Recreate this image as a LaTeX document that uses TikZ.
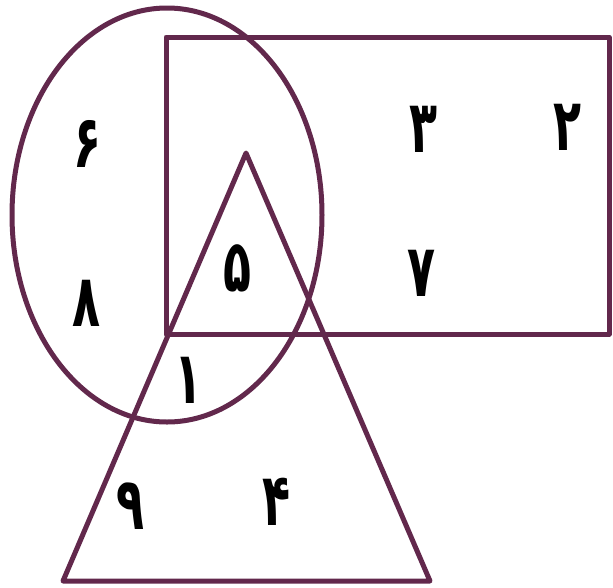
\documentclass[tikz,border=0pt]{standalone}
\usepackage{fontspec}
\newfontfamily\fafont[Script=Arabic]{DejaVu Sans}
\definecolor{edge}{RGB}{98,40,76}
\newcommand{\fadigit}[1]{\scalebox{0.85}[1.35]{#1}}
\begin{document}
\begin{tikzpicture}[x=1pt,y=-1pt,
  shape line/.style={draw=edge,line width=5pt,line join=round},
  digit/.style={font=\fafont\bfseries\fontsize{54}{54}\selectfont,text=black,inner sep=0pt}]
\useasboundingbox (0,0) rectangle (613,587);
\coordinate (ec) at (167,215);
\draw[shape line] (ec) ellipse [x radius=155, y radius=207];
\draw[shape line] (166,37) rectangle (609,334);
\coordinate (apex) at (246,153);
\coordinate (bl) at (63,581);
\coordinate (br) at (430,581);
\draw[shape line] (apex) -- (bl) -- (br) -- cycle;
\node[digit] (d6) at (88,144) {\fadigit{۶}};
\node[digit] (d3) at (424,129) {\fadigit{۳}};
\node[digit] (d2) at (568,127) {\fadigit{۲}};
\node[digit] (d5) at (238,268) {\fadigit{۵}};
\node[digit] (d7) at (422,273) {\fadigit{۷}};
\node[digit] (d8) at (87,303) {\fadigit{۸}};
\node[digit] (d1) at (189,380) {\fadigit{۱}};
\node[digit] (d9) at (131,506) {\fadigit{۹}};
\node[digit] (d4) at (277,502) {\fadigit{۴}};
\end{tikzpicture}
\end{document}
